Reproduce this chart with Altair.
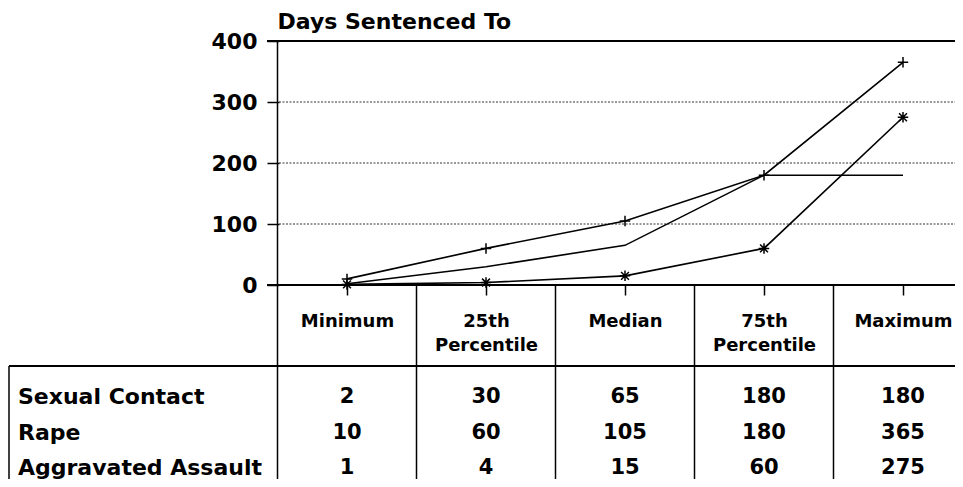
import json
import altair as alt
import pandas as pd

# ---------------- data ----------------
categories = ["Minimum", "25th Percentile", "Median", "75th Percentile", "Maximum"]
series = ["Sexual Contact", "Rape", "Aggravated Assault"]
sexual_contact = [2, 30, 65, 180, 180]
rape = [10, 60, 105, 180, 365]
aggravated_assault = [1, 4, 15, 60, 275]
y_ticks = [0, 100, 200, 300, 400]
grid_days = [100, 200, 300]
frame_days = [0, 400]
y_title = "Days Sentenced To"

values = {"Sexual Contact": sexual_contact, "Rape": rape, "Aggravated Assault": aggravated_assault}
rows = []
for s in series:
    for i, c in enumerate(categories):
        rows.append({"series": s, "category": c, "i": i, "days": values[s][i]})
df = pd.DataFrame(rows)
df_marks = df[df["series"] != "Sexual Contact"]

# ---------------- layout ----------------
W, H = 947, 471
CAT_PX = 139.0
FIRST_CENTER = 339.0
XMIN = -FIRST_CENTER / CAT_PX
XMAX = XMIN + W / CAT_PX
ZERO_Y = 277.0
DAY_PX = 0.61
YMAX = ZERO_Y / DAY_PX
YMIN = YMAX - H / DAY_PX
AXIS_X = 271
TABLE_LINE_Y = 358
BOX_X = 1
FONT = "DejaVu Sans"

xscale = alt.Scale(domain=[XMIN, XMAX], nice=False, zero=False)
yscale = alt.Scale(domain=[YMIN, YMAX], nice=False, zero=False)
rowscale = alt.Scale(type="point", domain=series, range=[389, 460], padding=0)

plus = "M-1,0L1,0M0,-1L0,1"
star = "M-1,0L1,0M0,-1L0,1M-0.75,-0.75L0.75,0.75M-0.75,0.75L0.75,-0.75"

label_expr = "split(" + json.dumps(categories) + "[datum.value], ' ')"

# ---------------- plot part ----------------
lines = alt.Chart(df).mark_line(color="black", strokeWidth=1.6).encode(
    x=alt.X("i:Q", scale=xscale, axis=alt.Axis(
        values=list(range(len(categories))), orient="bottom", offset=-(H - ZERO_Y),
        domain=False, grid=False, tickSize=10, tickWidth=1.5, tickColor="black",
        labelExpr=label_expr, labelFont=FONT, labelFontSize=18, labelFontWeight="bold",
        labelColor="black", labelPadding=17, labelLineHeight=24, labelBaseline="top",
        labelOverlap=False, labelFlush=False, title=None)),
    y=alt.Y("days:Q", scale=yscale, axis=alt.Axis(
        values=y_ticks, offset=-AXIS_X, domain=False, grid=False, tickSize=12,
        tickWidth=1.5, tickColor="black", labelPadding=10, labelFont=FONT,
        labelFontSize=22, labelFontWeight="bold", labelColor="black",
        title=y_title, titleAngle=0, titleAlign="left", titleBaseline="alphabetic",
        titleX=-2, titleY=20, titleFont=FONT, titleFontSize=22, titleFontWeight="bold",
        titleColor="black")),
    detail="series:N",
)

markers = alt.Chart(df_marks).mark_point(filled=False, color="black", strokeWidth=1.5, size=110, opacity=1).encode(
    x=alt.X("i:Q", scale=xscale, axis=None),
    y=alt.Y("days:Q", scale=yscale, axis=None),
    shape=alt.Shape("series:N", scale=alt.Scale(domain=["Rape", "Aggravated Assault"], range=[plus, star]), legend=None),
)

grid = alt.Chart(pd.DataFrame({"days": grid_days})).mark_rule(
    color="#333333", strokeWidth=1, strokeDash=[2, 1.5]).encode(
    y=alt.Y("days:Q", scale=yscale, axis=None),
    x=alt.value(AXIS_X), x2=alt.value(W),
)

frame = alt.Chart(pd.DataFrame({"days": frame_days})).mark_rule(
    color="black", strokeWidth=1.8).encode(
    y=alt.Y("days:Q", scale=yscale, axis=None),
    x=alt.value(AXIS_X - 12), x2=alt.value(W),
)

dividers_df = pd.DataFrame({
    "xb": [i - 0.5 for i in range(len(categories))],
    "ytop": [max(frame_days)] + [0] * (len(categories) - 1),
})
dividers = alt.Chart(dividers_df).mark_rule(color="black", strokeWidth=1.5).encode(
    x=alt.X("xb:Q", scale=xscale, axis=None),
    y=alt.Y("ytop:Q", scale=yscale, axis=None),
    y2=alt.value(H),
)

table_line = alt.Chart(pd.DataFrame({"k": [0]})).mark_rule(color="black", strokeWidth=1.8).encode(
    x=alt.value(BOX_X), x2=alt.value(W), y=alt.value(TABLE_LINE_Y),
)
table_border = alt.Chart(pd.DataFrame({"k": [0]})).mark_rule(color="black", strokeWidth=1.5).encode(
    x=alt.value(BOX_X), y=alt.value(TABLE_LINE_Y), y2=alt.value(H),
)

# ---------------- table part ----------------
row_labels = alt.Chart(pd.DataFrame({"series": series})).mark_text(
    align="left", baseline="middle", font=FONT, fontSize=22, fontWeight="bold", color="black").encode(
    x=alt.value(10),
    y=alt.Y("series:N", scale=rowscale, axis=None),
    text="series:N",
)
cells = alt.Chart(df).mark_text(
    align="center", baseline="middle", font=FONT, fontSize=21, fontWeight="bold", color="black").encode(
    x=alt.X("i:Q", scale=xscale, axis=None),
    y=alt.Y("series:N", scale=rowscale, axis=None),
    text=alt.Text("days:Q", format="d"),
)

chart = alt.layer(
    grid, frame, dividers, table_line, table_border, lines, markers, row_labels, cells
).resolve_scale(y="independent").resolve_axis(x="independent").properties(
    width=W, height=H, padding=0,
    autosize=alt.AutoSizeParams(type="none"),
    background="white",
).configure_view(stroke=None)

chart.save("out.html", embed_options={"renderer": "svg", "actions": False})
